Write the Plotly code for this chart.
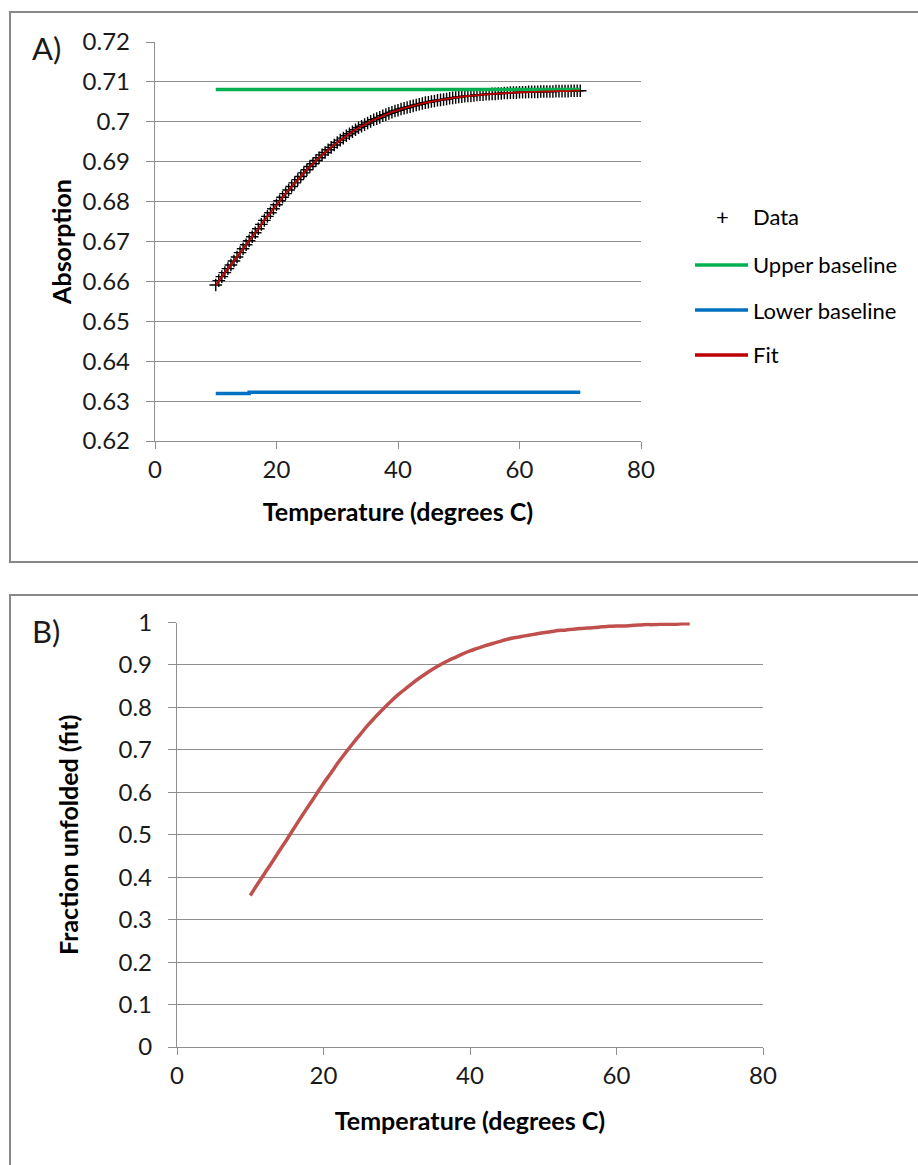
import plotly.graph_objects as go

# ---------------- data ----------------
data_temp = [10, 10.5, 11, 11.5, 12, 12.5, 13, 13.5, 14, 14.5, 15, 15.5, 16, 16.5, 17, 17.5,
             18, 18.5, 19, 19.5, 20, 20.5, 21, 21.5, 22, 22.5, 23, 23.5, 24, 24.5, 25, 25.5,
             26, 26.5, 27, 27.5, 28, 28.5, 29, 29.5, 30, 30.5, 31, 31.5, 32, 32.5, 33, 33.5,
             34, 34.5, 35, 35.5, 36, 36.5, 37, 37.5, 38, 38.5, 39, 39.5, 40, 40.5, 41, 41.5,
             42, 42.5, 43, 43.5, 44, 44.5, 45, 45.5, 46, 46.5, 47, 47.5, 48, 48.5, 49, 49.5,
             50, 50.5, 51, 51.5, 52, 52.5, 53, 53.5, 54, 54.5, 55, 55.5, 56, 56.5, 57, 57.5,
             58, 58.5, 59, 59.5, 60, 60.5, 61, 61.5, 62, 62.5, 63, 63.5, 64, 64.5, 65, 65.5,
             66, 66.5, 67, 67.5, 68, 68.5, 69, 69.5, 70]
data_abs = [0.6591, 0.6602, 0.6612, 0.6622, 0.6632, 0.6641, 0.6651, 0.6661, 0.6672, 0.6682,
            0.6692, 0.6702, 0.6712, 0.6722, 0.6732, 0.6743, 0.6753, 0.6763, 0.6772, 0.6782,
            0.6792, 0.6802, 0.6811, 0.6820, 0.6829, 0.6838, 0.6847, 0.6855, 0.6863, 0.6872,
            0.6880, 0.6888, 0.6895, 0.6903, 0.6910, 0.6917, 0.6923, 0.6930, 0.6936, 0.6942,
            0.6948, 0.6954, 0.6959, 0.6965, 0.6970, 0.6975, 0.6980, 0.6985, 0.6989, 0.6993,
            0.6997, 0.7001, 0.7005, 0.7008, 0.7011, 0.7015, 0.7018, 0.7021, 0.7024, 0.7027,
            0.7029, 0.7032, 0.7034, 0.7036, 0.7038, 0.7040, 0.7042, 0.7044, 0.7046, 0.7048,
            0.7049, 0.7051, 0.7052, 0.7054, 0.7055, 0.7056, 0.7057, 0.7059, 0.7060, 0.7061,
            0.7062, 0.7063, 0.7064, 0.7065, 0.7065, 0.7066, 0.7067, 0.7068, 0.7068, 0.7069,
            0.7069, 0.7070, 0.7070, 0.7071, 0.7071, 0.7072, 0.7072, 0.7073, 0.7073, 0.7073,
            0.7074, 0.7074, 0.7074, 0.7075, 0.7075, 0.7075, 0.7075, 0.7076, 0.7076, 0.7076,
            0.7076, 0.7076, 0.7077, 0.7077, 0.7077, 0.7077, 0.7077, 0.7078, 0.7078, 0.7078,
            0.7078]

fit_temp = [10, 11, 12, 13, 14, 15, 16, 17, 18, 19, 20, 21, 22, 23, 24, 25, 26, 27, 28, 29,
            30, 31, 32, 33, 34, 35, 36, 37, 38, 39, 40, 41, 42, 43, 44, 45, 46, 47, 48, 49,
            50, 51, 52, 53, 54, 55, 56, 57, 58, 59, 60, 61, 62, 63, 64, 65, 66, 67, 68, 69, 70]
fit_abs = [0.6591, 0.6612, 0.6632, 0.6651, 0.6672, 0.6692, 0.6712, 0.6732, 0.6753, 0.6772,
           0.6792, 0.6811, 0.6829, 0.6847, 0.6863, 0.6880, 0.6895, 0.6910, 0.6923, 0.6936,
           0.6948, 0.6959, 0.6970, 0.6980, 0.6989, 0.6997, 0.7005, 0.7011, 0.7018, 0.7024,
           0.7029, 0.7034, 0.7038, 0.7042, 0.7046, 0.7049, 0.7052, 0.7055, 0.7057, 0.7060,
           0.7062, 0.7064, 0.7065, 0.7067, 0.7068, 0.7069, 0.7070, 0.7071, 0.7072, 0.7073,
           0.7074, 0.7074, 0.7075, 0.7075, 0.7076, 0.7076, 0.7077, 0.7077, 0.7077, 0.7078,
           0.7078]
fraction_unfolded = [0.357, 0.384, 0.410, 0.436, 0.463, 0.489, 0.516, 0.543, 0.569, 0.595,
                     0.621, 0.645, 0.670, 0.693, 0.715, 0.736, 0.757, 0.776, 0.794, 0.811,
                     0.827, 0.841, 0.855, 0.868, 0.880, 0.891, 0.901, 0.910, 0.918, 0.926,
                     0.933, 0.939, 0.945, 0.950, 0.955, 0.960, 0.964, 0.967, 0.970, 0.973,
                     0.976, 0.978, 0.981, 0.982, 0.984, 0.986, 0.987, 0.988, 0.990, 0.991,
                     0.992, 0.992, 0.993, 0.994, 0.995, 0.995, 0.996, 0.996, 0.996, 0.997,
                     0.997]

upper_temp = [10, 70]
upper_abs = [0.7081, 0.7081]
lower_temp = [10, 15.5, 15.5, 70]
lower_abs = [0.6319, 0.6319, 0.6322, 0.6322]

x_ticks = [0, 20, 40, 60, 80]
x_ticktext = ["0", "20", "40", "60", "80"]
a_yticks = [0.62, 0.63, 0.64, 0.65, 0.66, 0.67, 0.68, 0.69, 0.70, 0.71, 0.72]
a_yticktext = ["0.62", "0.63", "0.64", "0.65", "0.66", "0.67", "0.68", "0.69", "0.7", "0.71", "0.72"]
b_yticks = [0, 0.1, 0.2, 0.3, 0.4, 0.5, 0.6, 0.7, 0.8, 0.9, 1.0]
b_yticktext = ["0", "0.1", "0.2", "0.3", "0.4", "0.5", "0.6", "0.7", "0.8", "0.9", "1"]

legend_names = ["Data", "Upper baseline", "Lower baseline", "Fit"]

# ---------------- styling ----------------
W, H = 918, 1165
FONT = "Lato, Open Sans, sans-serif"
GRID = "#8e8e8e"
GREEN = "#00b050"
BLUE = "#0070c0"
FITRED = "#c00000"
BRED = "#c0504d"


def px(x):
    return x / W


def py(y):
    return 1 - y / H


fig = go.Figure()

fig.add_trace(go.Scatter(x=data_temp, y=data_abs, mode="markers", name=legend_names[0],
                         marker=dict(symbol="cross-thin", size=9, color="black",
                                     line=dict(color="black", width=1.4)),
                         xaxis="x", yaxis="y", showlegend=False))
fig.add_trace(go.Scatter(x=upper_temp, y=upper_abs, mode="lines", name=legend_names[1],
                         line=dict(color=GREEN, width=3.5), xaxis="x", yaxis="y", showlegend=False))
fig.add_trace(go.Scatter(x=lower_temp, y=lower_abs, mode="lines", name=legend_names[2],
                         line=dict(color=BLUE, width=3.5), xaxis="x", yaxis="y", showlegend=False))
fig.add_trace(go.Scatter(x=fit_temp, y=fit_abs, mode="lines", name=legend_names[3],
                         line=dict(color=FITRED, width=1.8, shape="spline"),
                         xaxis="x", yaxis="y", showlegend=False))
fig.add_trace(go.Scatter(x=fit_temp, y=fraction_unfolded, mode="lines", name="Fraction unfolded (fit)",
                         line=dict(color=BRED, width=3.5, shape="spline"),
                         xaxis="x2", yaxis="y2", showlegend=False))

tickfont = dict(family=FONT, size=24, color="#1a1a1a")
titlefont = dict(family=FONT, size=25, color="#000000", weight="bold")

common_x = dict(range=[0, 80], tickvals=x_ticks, ticktext=x_ticktext, showgrid=False,
                showline=True, linecolor=GRID, linewidth=1.3, ticks="outside", ticklen=7,
                tickcolor=GRID, tickwidth=1.3, tickfont=tickfont, zeroline=False,
                ticklabelstandoff=0, fixedrange=True, automargin=False)
common_y = dict(showgrid=True, gridcolor=GRID, gridwidth=1.3, showline=True, linecolor=GRID,
                linewidth=1.3, ticks="outside", ticklen=8, tickcolor=GRID, tickwidth=1.3,
                tickfont=tickfont, zeroline=False, ticklabelstandoff=11, fixedrange=True,
                automargin=False)

fig.update_layout(
    width=W, height=H,
    autosize=False,
    margin=dict(l=0, r=0, t=0, b=0, pad=0, autoexpand=False),
    paper_bgcolor="white", plot_bgcolor="white",
    showlegend=False,
    font=dict(family=FONT, color="#1a1a1a"),
    xaxis=dict(domain=[px(155), px(641)], anchor="y",
               title=dict(text="Temperature (degrees C)", font=titlefont, standoff=21),
               **common_x),
    yaxis=dict(domain=[py(441), py(42)], anchor="x", range=[0.62, 0.72],
               tickvals=a_yticks, ticktext=a_yticktext,
               title=dict(text="Absorption", font=titlefont, standoff=3),
               **common_y),
    xaxis2=dict(domain=[px(177), px(763)], anchor="y2",
                title=dict(text="Temperature (degrees C)", font=titlefont, standoff=24),
                **common_x),
    yaxis2=dict(domain=[py(1047), py(622.5)], anchor="x2", range=[0, 1],
                tickvals=b_yticks, ticktext=b_yticktext,
                title=dict(text="Fraction unfolded (fit)", font=titlefont, standoff=32),
                **common_y),
)

shapes = [
    # panel borders
    dict(type="rect", xref="paper", yref="paper", x0=px(10), x1=px(930), y0=py(562), y1=py(12),
         line=dict(color="#888888", width=2), fillcolor="rgba(0,0,0,0)", layer="below"),
    dict(type="rect", xref="paper", yref="paper", x0=px(10), x1=px(930), y0=py(1180), y1=py(595),
         line=dict(color="#888888", width=2), fillcolor="rgba(0,0,0,0)", layer="below"),
    # legend samples
    dict(type="line", xref="paper", yref="paper", x0=px(695), x1=px(748), y0=py(265), y1=py(265),
         line=dict(color=GREEN, width=3.5)),
    dict(type="line", xref="paper", yref="paper", x0=px(695), x1=px(748), y0=py(310), y1=py(310),
         line=dict(color=BLUE, width=3.5)),
    dict(type="line", xref="paper", yref="paper", x0=px(695), x1=px(748), y0=py(355), y1=py(355),
         line=dict(color=FITRED, width=3.5)),
]

legfont = dict(family=FONT, size=22, color="#000000")
annotations = [
    dict(text="A)", x=px(30), y=py(48), xref="paper", yref="paper", xanchor="left", yanchor="middle",
         showarrow=False, font=dict(family=FONT, size=31, color="#1a1a1a")),
    dict(text="B)", x=px(30), y=py(631), xref="paper", yref="paper", xanchor="left", yanchor="middle",
         showarrow=False, font=dict(family=FONT, size=31, color="#1a1a1a")),
    dict(text="+", x=px(722), y=py(216), xref="paper", yref="paper", xanchor="center", yanchor="middle",
         showarrow=False, font=dict(family=FONT, size=22, color="#000000")),
]
for name, yy in zip(legend_names, [216, 265, 310, 355]):
    annotations.append(dict(text=name, x=px(751), y=py(yy), xref="paper", yref="paper",
                            xanchor="left", yanchor="middle", showarrow=False, font=legfont))

fig.update_layout(shapes=shapes, annotations=annotations)

fig.write_html("out.html", config={"displayModeBar": False})
